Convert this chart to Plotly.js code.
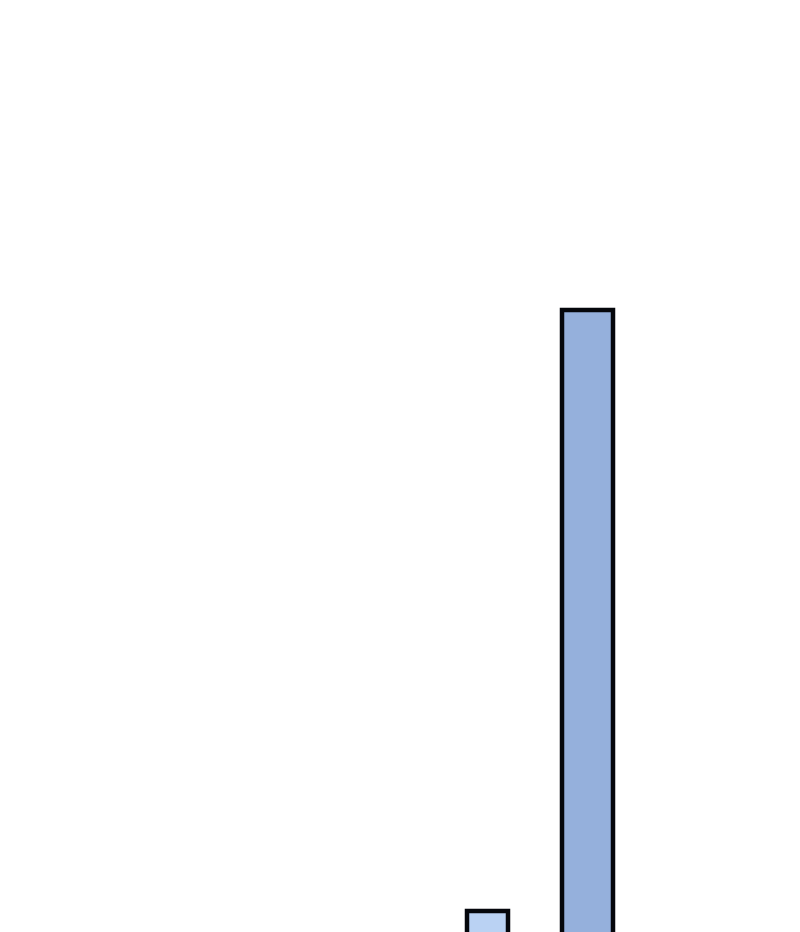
<!DOCTYPE html>
<html>
<head>
<meta charset="utf-8">
<script src="https://cdn.plot.ly/plotly-3.0.1.min.js"></script>
<style>
  html, body { margin: 0; padding: 0; background: #fff; }
  #chart { width: 800px; height: 932px; }
</style>
</head>
<body>
<div id="chart"></div>
<script>
// only two bars survive in this crop of a larger chart
const categories = ["A", "B"];
const values = [21.8, 73.4];
const barColors = ["#bad2f3", "#95b0dc"];
const barWidths = [0.41, 0.51];

const trace = {
  type: "bar",
  x: categories,
  y: values,
  width: barWidths,
  marker: {
    color: barColors,
    line: { color: "#05070c", width: 4.5 },
  },
  hoverinfo: "none",
};

const layout = {
  width: 800,
  height: 932,
  margin: { l: 0, r: 0, t: 0, b: 0, pad: 0 },
  paper_bgcolor: "#ffffff",
  plot_bgcolor: "#ffffff",
  showlegend: false,
  xaxis: {
    type: "category",
    range: [-4.875, 3.125],
    visible: false,
    fixedrange: true,
  },
  yaxis: {
    range: [20, 100],
    visible: false,
    fixedrange: true,
  },
};

Plotly.newPlot("chart", [trace], layout, { staticPlot: true, displayModeBar: false });
</script>
</body>
</html>
